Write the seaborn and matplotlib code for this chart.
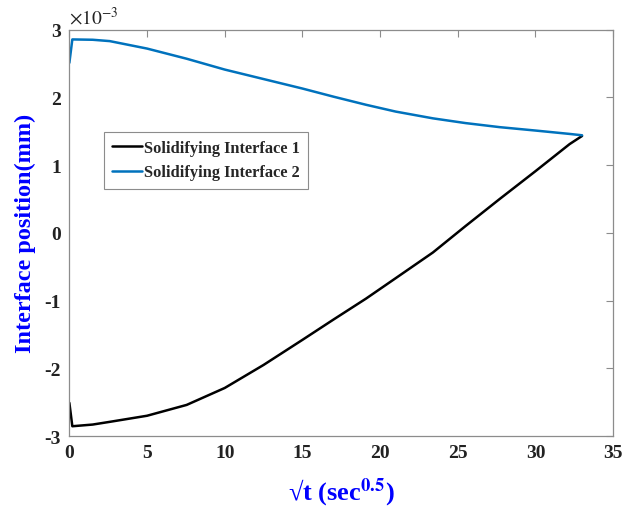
import numpy as np
import pandas as pd
import matplotlib
matplotlib.use("Agg")
import matplotlib.pyplot as plt
import seaborn as sns
from matplotlib.ticker import FuncFormatter

sns.set_theme(style="white")
plt.rcParams['font.family'] = ['Liberation Serif', 'DejaVu Serif']
plt.rcParams['mathtext.fontset'] = 'stix'
plt.rcParams['axes.unicode_minus'] = False

# data (y in units of 1e-3 mm)
x1 = [0, 0.19, 1.5, 2.6, 5, 7.55, 10, 12.5, 15, 17, 19.1, 21, 23.4, 25.5, 27.7, 30, 32.2, 33]
y1 = [-2.51, -2.855, -2.83, -2.79, -2.70, -2.54, -2.29, -1.95, -1.58, -1.28, -0.97, -0.67, -0.29, 0.10, 0.50, 0.91, 1.31, 1.43]
x2 = [0, 0.19, 1.5, 2.6, 5, 7.55, 10, 12.5, 15, 17, 19.1, 21, 23.4, 25.5, 27.7, 30, 32.2, 33]
y2 = [2.51, 2.855, 2.85, 2.83, 2.72, 2.57, 2.41, 2.27, 2.13, 2.01, 1.89, 1.79, 1.69, 1.62, 1.56, 1.51, 1.46, 1.44]
labels = ["Solidifying Interface 1", "Solidifying Interface 2"]
xticks = [0, 5, 10, 15, 20, 25, 30, 35]
yticks = [-3, -2, -1, 0, 1, 2, 3]

df = pd.DataFrame({
    "x": x1 + x2,
    "y": [v * 1e-3 for v in y1] + [v * 1e-3 for v in y2],
    "series": [labels[0]] * len(x1) + [labels[1]] * len(x2),
})

fig = plt.figure(figsize=(6.25, 5.1), dpi=100)
ax = fig.add_axes([0.111, 0.143, 0.870, 0.797])
sns.lineplot(data=df, x="x", y="y", hue="series", estimator=None, sort=False,
             palette={labels[0]: "#000000", labels[1]: "#0072BD"},
             linewidth=1.8, ax=ax, legend=True)

ax.set_xlim(0, 35)
ax.set_ylim(-3e-3, 3e-3)
ax.set_xticks(xticks)
ax.set_yticks([v * 1e-3 for v in yticks])
ax.yaxis.set_major_formatter(FuncFormatter(lambda v, p: f"{round(v * 1e3):d}"))
ax.text(0.0, 1.004, r"$\times10^{-3}$", transform=ax.transAxes, fontsize=14,
        ha="left", va="bottom", color="#222222")

for sp in ax.spines.values():
    sp.set_color("#8c8c8c")
    sp.set_linewidth(0.9)
ax.tick_params(direction="in", top=True, right=True, length=5, width=0.8,
               color="#8c8c8c", labelsize=14, labelcolor="#222222", pad=6)
for lab in ax.get_xticklabels() + ax.get_yticklabels():
    lab.set_fontweight("bold")

ax.set_xlabel(r"√t (sec$^{\mathbf{0.5}}$)", fontsize=19, fontweight="bold", color="#0000ff", labelpad=10)
ax.set_ylabel("Interface position(mm)", fontsize=17.5, fontweight="bold", color="#0000ff", labelpad=6)

leg = ax.legend(loc="upper left", bbox_to_anchor=(0.064, 0.748), borderaxespad=0, fancybox=False,
                edgecolor="#8c8c8c", framealpha=1, handlelength=1.8, handletextpad=0.15,
                borderpad=0.5, labelspacing=0.5, prop={"family": "Liberation Serif", "weight": "bold", "size": 11.8})
leg.get_frame().set_linewidth(0.8)

fig.savefig("out.png", dpi=100)
